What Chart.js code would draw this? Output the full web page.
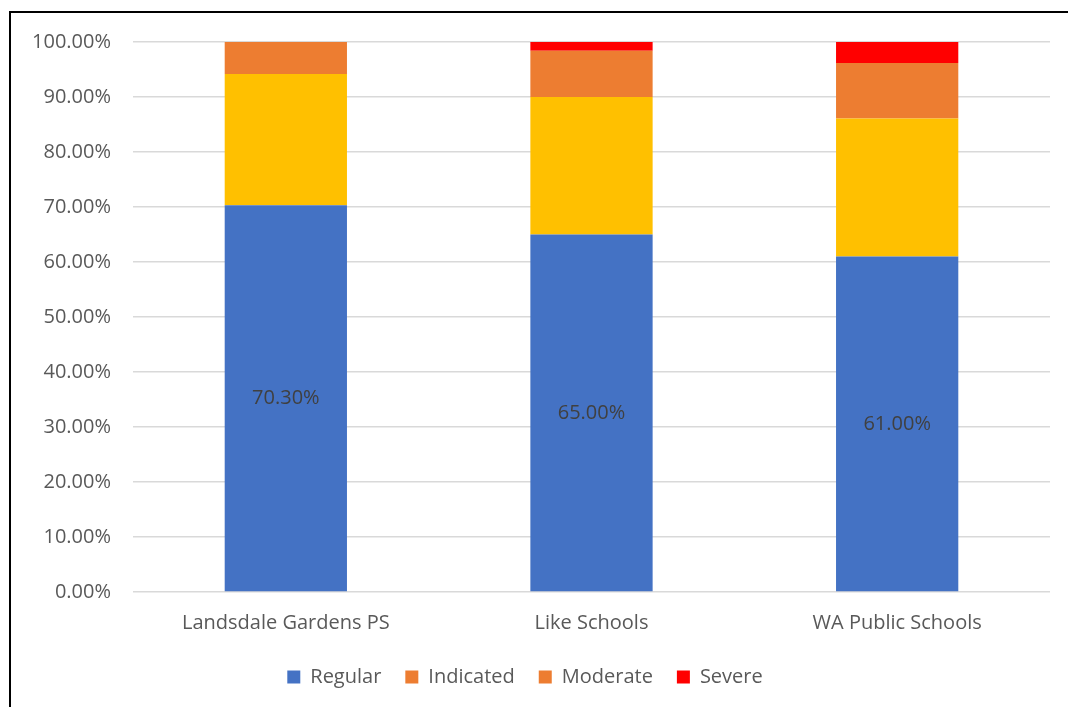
<!DOCTYPE html>
<html>
<head>
<meta charset="utf-8">
<script src="https://cdn.jsdelivr.net/npm/chart.js@4/dist/chart.umd.min.js"></script>
<style>
  html, body { margin: 0; padding: 0; background: #fff; }
  #wrap { position: relative; width: 1068px; height: 707px; overflow: hidden; }
  #frame { position: absolute; left: 9px; top: 11px; width: 1080px; height: 720px; border: 2px solid #000; box-sizing: border-box; }
  #myChart { position: absolute; left: 0; top: 0; }
</style>
</head>
<body>
<div id="wrap">
  <div id="frame"></div>
  <canvas id="myChart" width="1068" height="707"></canvas>
</div>
<script>
var schools = ["Landsdale Gardens PS", "Like Schools", "WA Public Schools"];
var regular = [70.3, 65.0, 61.0];
var indicated = [23.9, 25.0, 25.1];
var moderate = [5.8, 8.4, 10.1];
var severe = [0, 1.6, 3.8];
var yTicks = [0, 10, 20, 30, 40, 50, 60, 70, 80, 90, 100];

var seriesNames = ["Regular", "Indicated", "Moderate", "Severe"];
var barColours = ['#4472C4', '#FFC000', '#ED7D31', '#FF0000'];
var legendColours = ['#4472C4', '#ED7D31', '#ED7D31', '#FF0000'];

var font = "'Open Sans', 'Noto Sans', sans-serif";

// value labels in the middle of the Regular bars
var regularLabels = {
    id: 'regularLabels',
    afterDatasetsDraw: function(chart) {
        var ctx = chart.ctx;
        var meta = chart.getDatasetMeta(0);
        ctx.save();
        ctx.font = '20px ' + font;
        ctx.fillStyle = '#404040';
        ctx.textAlign = 'center';
        ctx.textBaseline = 'middle';
        meta.data.forEach(function(bar, i) {
            var mid = (bar.y + bar.base) / 2;
            ctx.fillText(regular[i].toFixed(2) + '%', bar.x, mid);
        });
        ctx.restore();
    }
};

var ctx = document.getElementById('myChart').getContext('2d');
var chart = new Chart(ctx, {
    type: 'bar',
    data: {
        labels: schools,
        datasets: [regular, indicated, moderate, severe].map(function(vals, i) {
            return {
                label: seriesNames[i],
                data: vals,
                backgroundColor: barColours[i],
                borderWidth: 0,
                barPercentage: 1,
                categoryPercentage: 0.4
            };
        })
    },
    options: {
        responsive: false,
        animation: false,
        layout: { padding: { top: 42, right: 18, bottom: 10, left: 0 } },
        plugins: {
            tooltip: { enabled: false },
            legend: {
                position: 'bottom',
                labels: {
                    font: { family: font, size: 20 },
                    color: '#595959',
                    boxWidth: 13,
                    boxHeight: 13,
                    padding: 24,
                    generateLabels: function(chart) {
                        return seriesNames.map(function(name, i) {
                            return {
                                text: name,
                                fillStyle: legendColours[i],
                                strokeStyle: legendColours[i],
                                lineWidth: 0,
                                fontColor: '#595959',
                                datasetIndex: i
                            };
                        });
                    }
                }
            }
        },
        scales: {
            x: {
                stacked: true,
                grid: { display: false },
                border: { display: false },
                ticks: {
                    font: { family: font, size: 20 },
                    color: '#595959',
                    padding: 11
                },
                afterFit: function(scale) { scale.height = 51; }
            },
            y: {
                stacked: true,
                min: 0,
                max: 100,
                afterBuildTicks: function(scale) {
                    scale.ticks = yTicks.map(function(v) { return { value: v }; });
                },
                grid: { color: '#d9d9d9', lineWidth: 1.5, drawTicks: false },
                border: { display: false },
                ticks: {
                    font: { family: font, size: 20 },
                    color: '#595959',
                    padding: 22,
                    callback: function(v) { return v.toFixed(2) + '%'; }
                },
                afterFit: function(scale) { scale.width = 133; }
            }
        }
    },
    plugins: [regularLabels]
});
</script>
</body>
</html>
